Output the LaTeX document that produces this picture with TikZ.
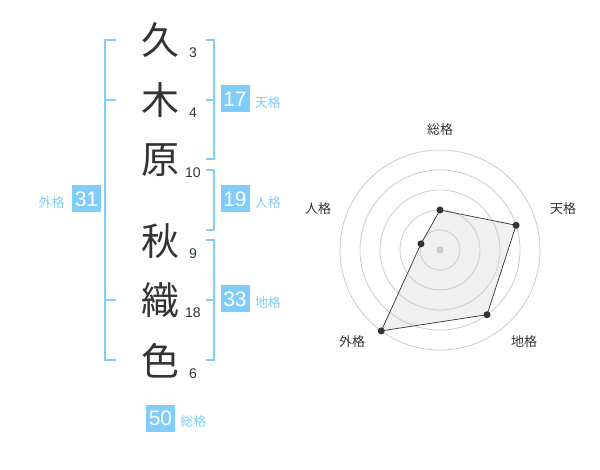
\documentclass[tikz,border=0pt]{standalone}
\usepackage{fontspec}
\setmainfont{Noto Sans CJK JP}
\newfontfamily\digitfont{Liberation Sans}
\usetikzlibrary{positioning}

\definecolor{kakublue}{RGB}{128,204,250}
\definecolor{kakutext}{RGB}{51,51,51}
\definecolor{ringgray}{RGB}{204,204,204}
\definecolor{areagray}{RGB}{240,240,240}

\tikzset{
    kanji/.style={font=\fontsize{38}{38}\selectfont, text=kakutext, inner sep=0pt},
    strokes/.style={font=\digitfont\fontsize{14}{14}\selectfont, text=kakutext, inner sep=0pt},
    bracket/.style={draw=kakublue, line width=2pt},
    kakubox/.style={fill=kakublue, text=white, minimum width=29pt, minimum height=27pt, inner sep=0pt, font=\digitfont\fontsize{21}{21}\selectfont},
    kakulabel/.style={text=kakublue, inner sep=0pt, font=\fontsize{13}{13}\selectfont},
    ring/.style={draw=ringgray, line width=0.8pt},
    radarlabel/.style={text=kakutext, inner sep=0pt, font=\fontsize{13}{13}\selectfont},
    radardot/.style={circle, fill=kakutext, inner sep=0pt, minimum size=7pt}
}

\begin{document}
\begin{tikzpicture}[x=1pt, y=-1pt]
    \useasboundingbox (0,0) rectangle (600,470);

    % Name characters and stroke counts
    \foreach \ch/\y/\n [count=\i] in {久/40/3, 木/100/4, 原/160/10, 秋/241/9, 織/300/18, 色/361/6} {
        \node[kanji] (kanji\i) at (160,\y) {\ch};
        \node[strokes] (num\i) at (193,\y+13) {\n};
    }

    % Outer bracket (gaikaku)
    \draw[bracket] (116,40) -- (105,40) -- (105,360) -- (116,360);
    \draw[bracket] (105,100) -- (116,100);
    \draw[bracket] (105,300) -- (116,300);

    % Right brackets: tenkaku, jinkaku, chikaku
    \draw[bracket] (206,40) -- (214,40) -- (214,159) -- (206,159);
    \draw[bracket] (206,100) -- (214,100);
    \draw[bracket] (206,170) -- (214,170) -- (214,230) -- (206,230);
    \draw[bracket] (206,240) -- (214,240) -- (214,360) -- (206,360);
    \draw[bracket] (206,300) -- (214,300);

    % Score boxes
    \node[kakubox] (ten) at (235,99) {17};
    \node[kakubox] (jin) at (235,199) {19};
    \node[kakubox] (chi) at (235,299) {33};
    \node[kakubox] (gai) at (86.5,199) {31};
    \node[kakubox] (sou) at (160.5,418) {50};

    % Box labels
    \node[kakulabel, anchor=base west] (tenlabel) at ([xshift=5pt, yshift=-1.5pt]ten.base east) {天格};
    \node[kakulabel, anchor=base west] (jinlabel) at ([xshift=5pt, yshift=-1.5pt]jin.base east) {人格};
    \node[kakulabel, anchor=base west] (chilabel) at ([xshift=5pt, yshift=-1.5pt]chi.base east) {地格};
    \node[kakulabel, anchor=base east] (gailabel) at ([xshift=-7pt, yshift=-1.5pt]gai.base west) {外格};
    \node[kakulabel, anchor=base west] (soulabel) at ([xshift=5pt, yshift=-1.5pt]sou.base east) {総格};

    % Radar chart
    \coordinate (center) at (440,250);
    \foreach \a/\r [count=\i] in {-90/40, -18/80, 54/80, 126/100, -162/20} {
        \coordinate (p\i) at ([shift={(\a:\r)}]center);
    }
    \fill[areagray] (p1) -- (p2) -- (p3) -- (p4) -- (p5) -- cycle;
    \foreach \r in {20,40,...,100} {
        \draw[ring] (center) circle (\r pt);
    }
    \fill[ringgray] (center) circle (3.5pt);
    \draw[kakutext, line width=0.7pt] (p1) -- (p2) -- (p3) -- (p4) -- (p5) -- cycle;
    \foreach \i in {1,...,5} {
        \node[radardot] (dot\i) at (p\i) {};
    }

    % Radar labels
    \node[radarlabel] (rsou) at (440,130) {総格};
    \node[radarlabel] (rten) at (563,209) {天格};
    \node[radarlabel] (rchi) at (524,342) {地格};
    \node[radarlabel] (rgai) at (352,342) {外格};
    \node[radarlabel] (rjin) at (318,209) {人格};
\end{tikzpicture}
\end{document}
